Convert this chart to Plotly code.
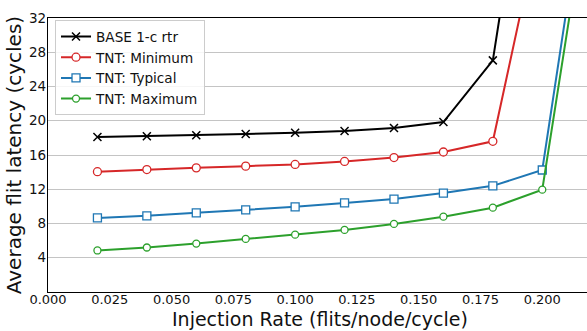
import plotly.graph_objects as go

# Injection rates (flits/node/cycle)
rates = [0.02, 0.04, 0.06, 0.08, 0.10, 0.12, 0.14, 0.16, 0.18, 0.20, 0.22]

# Average flit latency (cycles) per configuration
base_1c = [18.1, 18.2, 18.3, 18.45, 18.6, 18.8, 19.15, 19.85, 27.05, 64.0]
tnt_min = [14.05, 14.3, 14.5, 14.7, 14.9, 15.25, 15.7, 16.35, 17.6, 44.3]
tnt_typ = [8.65, 8.9, 9.25, 9.6, 9.95, 10.4, 10.85, 11.55, 12.4, 14.25, 52.4]
tnt_max = [4.85, 5.2, 5.65, 6.2, 6.7, 7.25, 7.95, 8.8, 9.85, 11.95, 48.7]

series_names = ["BASE 1-c rtr", "TNT: Minimum", "TNT: Typical", "TNT: Maximum"]
series_values = [base_1c, tnt_min, tnt_typ, tnt_max]
series_colors = ["#000000", "#d62728", "#1f77b4", "#2ca02c"]
series_symbols = ["x-thin", "circle", "square", "circle"]
series_sizes = [8, 8, 8, 7]

x_ticks = [0.0, 0.025, 0.05, 0.075, 0.1, 0.125, 0.15, 0.175, 0.2]
y_ticks = [4, 8, 12, 16, 20, 24, 28, 32]

FONT = "DejaVu Sans"
INK = "#111111"

fig = go.Figure()
for name, vals, color, sym, size in zip(series_names, series_values,
                                        series_colors, series_symbols, series_sizes):
    if sym == "x-thin":
        marker = dict(symbol=sym, size=size, color=color,
                      line=dict(color=color, width=1.5))
    else:
        marker = dict(symbol=sym, size=size, color="white",
                      line=dict(color=color, width=1.3))
    fig.add_trace(go.Scatter(
        x=rates[:len(vals)], y=vals, name=name, mode="lines+markers",
        line=dict(color=color, width=2), marker=marker,
    ))

fig.update_layout(
    width=587, height=331,
    margin=dict(l=48, r=0, t=18, b=39),
    plot_bgcolor="white", paper_bgcolor="white",
    font=dict(family=FONT, color=INK, size=13),
    showlegend=True,
    legend=dict(
        x=0.013, y=0.992, xanchor="left", yanchor="top",
        bgcolor="rgba(255,255,255,0.85)", bordercolor="#cccccc", borderwidth=1,
        font=dict(family=FONT, size=13.6, color=INK),
        tracegroupgap=0,
    ),
    xaxis=dict(
        range=[0, 0.2181], tickvals=x_ticks,
        ticktext=[f"{v:.3f}" for v in x_ticks],
        showgrid=False, zeroline=False,
        showline=True, linecolor="black", linewidth=1.2, mirror=True,
        ticks="", ticklabelstandoff=-5,
        tickfont=dict(family=FONT, size=13, color=INK),
    ),
    yaxis=dict(
        range=[0, 32], tickvals=y_ticks,
        showgrid=True, gridcolor="#c4c4c4", gridwidth=1.2, zeroline=False,
        showline=True, linecolor="black", linewidth=1.2,
        ticks="", ticklabelstandoff=-2,
        tickfont=dict(family=FONT, size=13.5, color=INK),
    ),
    annotations=[
        dict(text="Injection Rate (flits/node/cycle)", xref="paper", yref="paper",
             x=0.505, y=-0.1423, xanchor="center", yanchor="bottom", borderpad=0,
             showarrow=False, font=dict(family=FONT, size=19, color=INK)),
        dict(text="Average flit latency (cycles)", xref="paper", yref="paper",
             x=-0.0886, y=0.5, xanchor="left", yanchor="middle", textangle=-90,
             showarrow=False, font=dict(family=FONT, size=20, color=INK)),
    ],
)

fig.write_html("out.html")
